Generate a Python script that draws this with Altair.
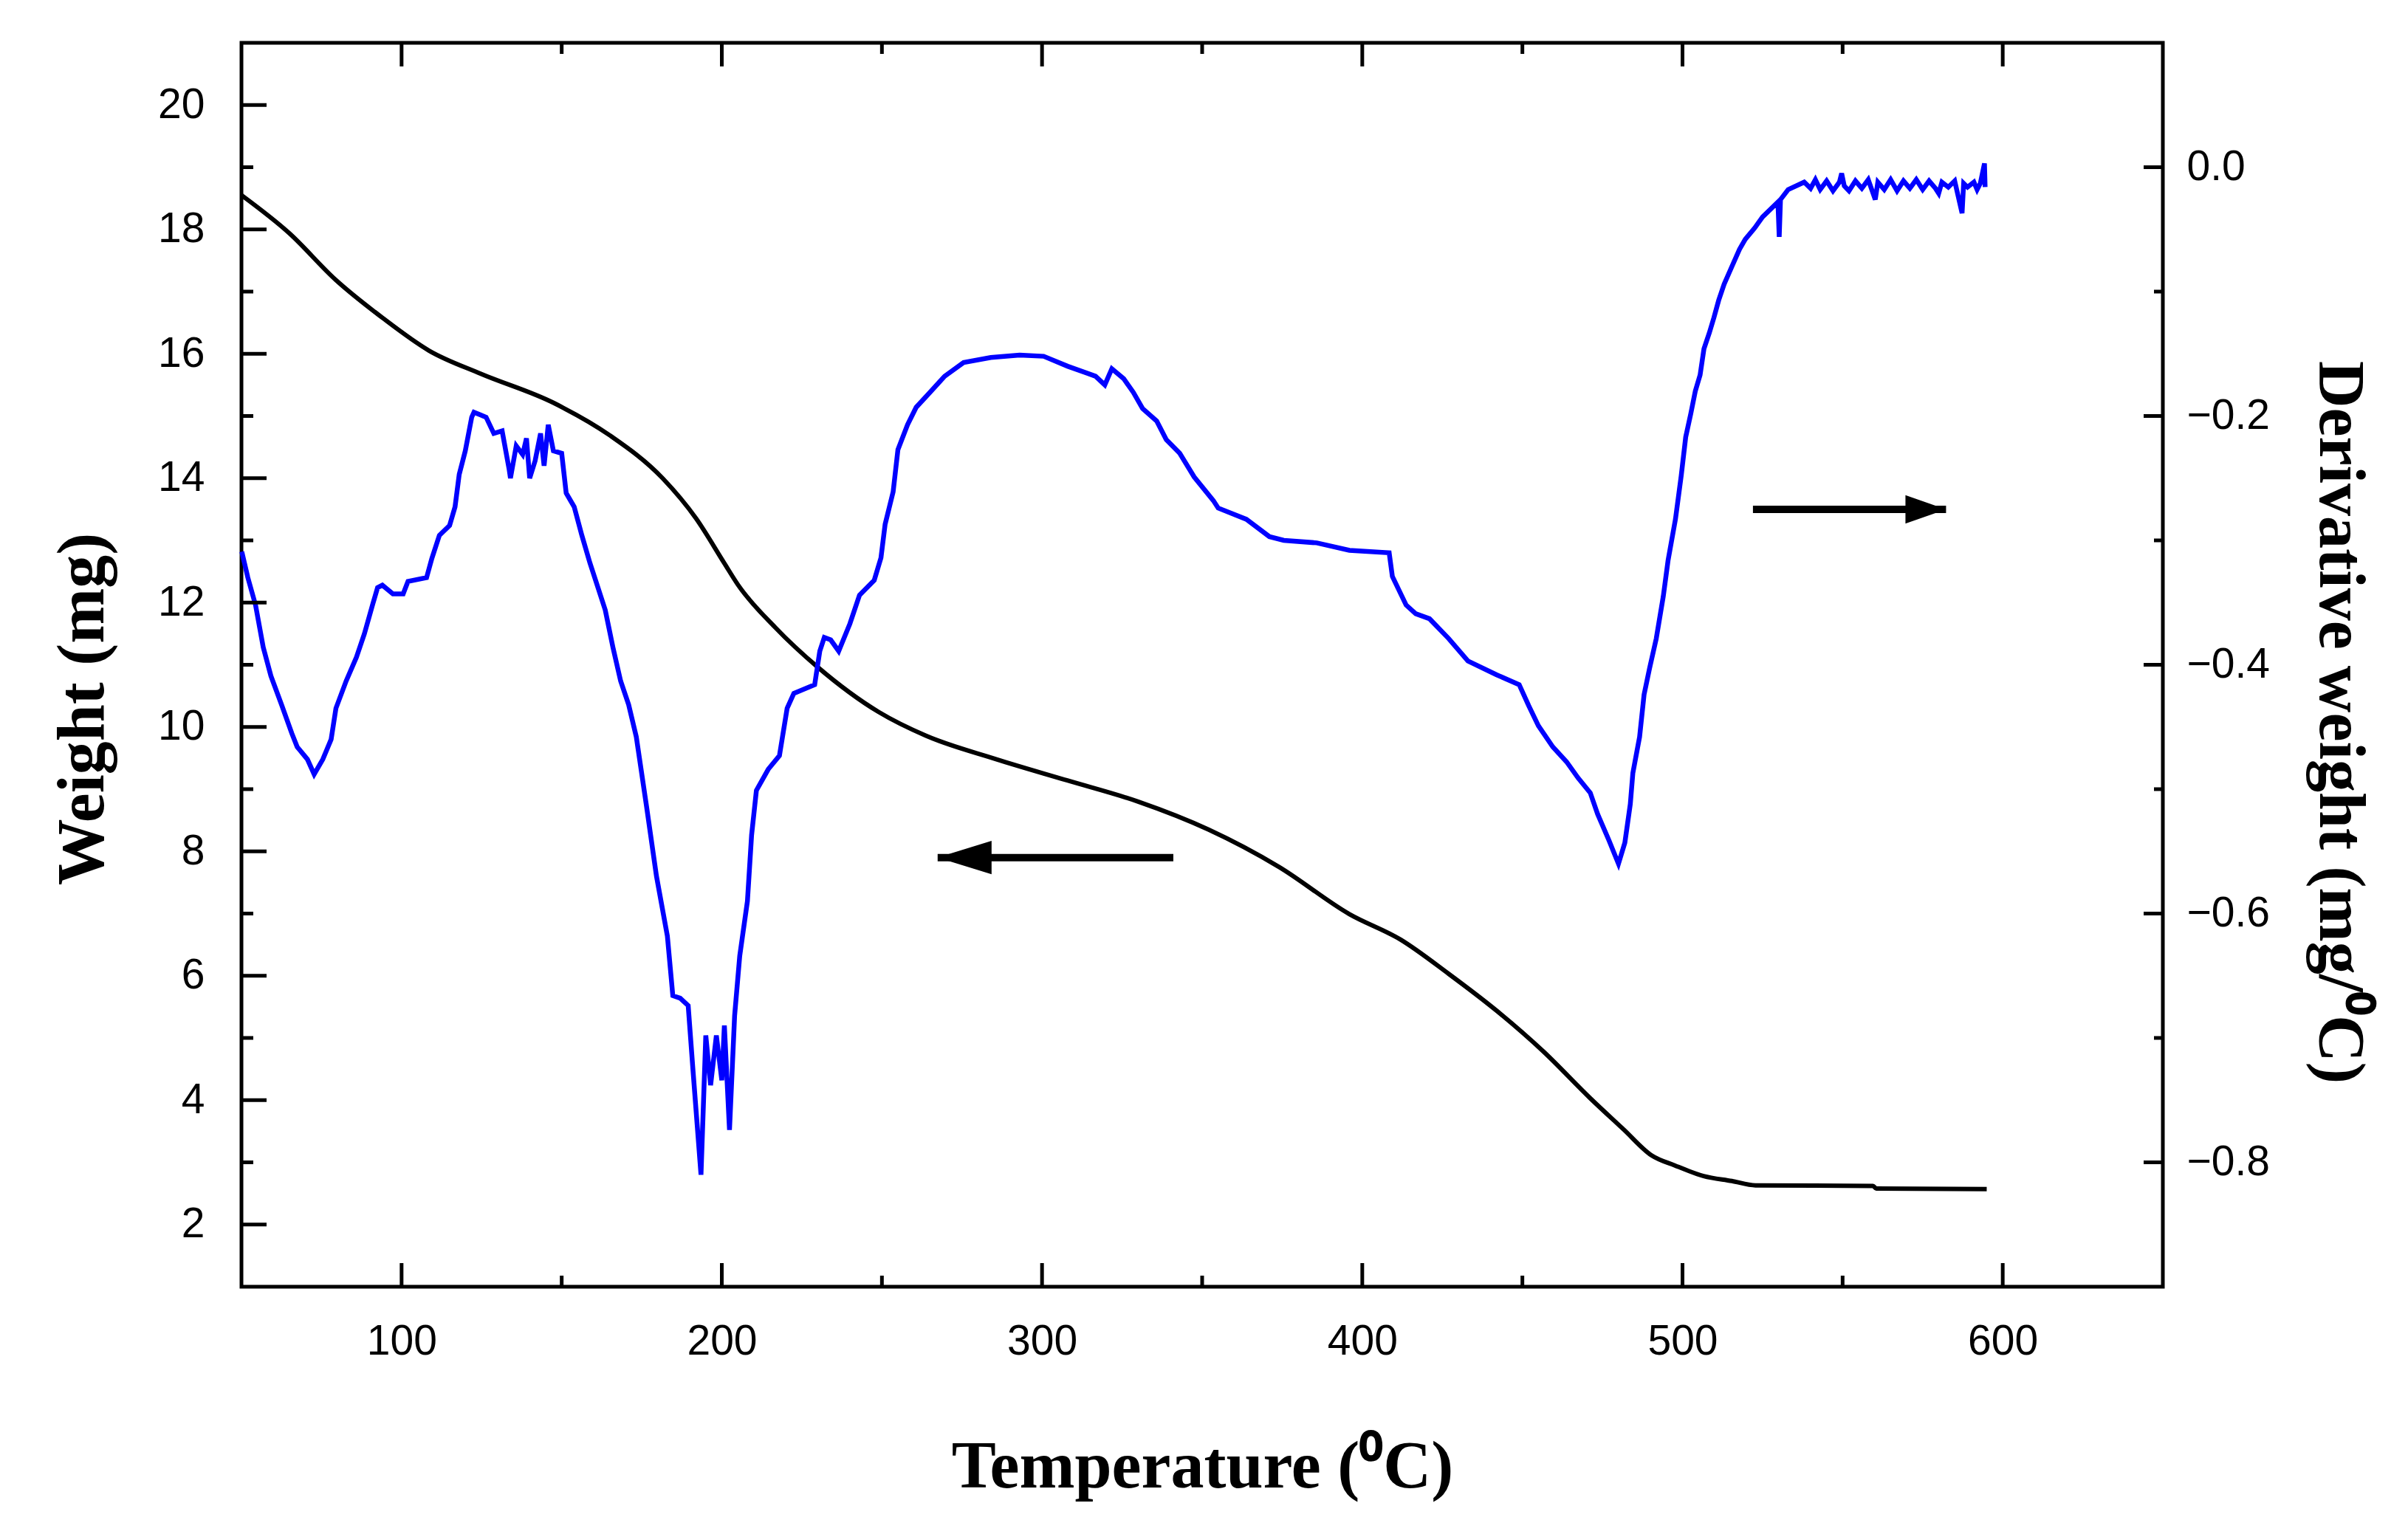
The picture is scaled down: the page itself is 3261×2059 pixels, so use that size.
import altair as alt
import pandas as pd

# ---- data ----
temp_w = [50, 64.9, 79.4, 94, 108.6, 124.7, 147.5, 165, 181.5, 192, 200.7, 205, 216.7, 230, 249,
          263.7, 285.8, 307.9, 330, 352, 374, 396, 412, 427, 441.9, 456.6, 471.2, 481.6,
          490.4, 497.6, 506.6, 515.4, 522.8, 559.5, 560.5, 595]
weight = [18.55, 17.94, 17.19, 16.58, 16.05, 15.68, 15.21, 14.69, 14.00, 13.35, 12.64, 12.29, 11.60,
          10.96, 10.24, 9.86, 9.48, 9.14, 8.80, 8.35, 7.75, 6.99, 6.58, 6.03, 5.44, 4.78, 4.03,
          3.53, 3.11, 2.95, 2.78, 2.70, 2.63, 2.62, 2.58, 2.57]

temp_d = [50.1, 52, 54.4, 56.8, 59.2, 62.5, 65.7, 67.4, 70.6, 72.7, 75.4, 78, 79.5, 82.7, 85.9,
          88.4, 90.8, 92.5, 94, 97.3, 100.5, 102, 107.8, 109.4, 111.8, 115, 116.7, 118, 119.9,
          121.9, 122.6, 124.5, 126.4, 128.8, 131.4, 133.6, 134, 135.8, 137.8, 139, 140, 141.7,
          143.4, 144.5, 145.8, 147.4, 150, 151.4, 153.9, 156.3, 158.8, 161.2, 163.6, 166, 168.4,
          170.9, 173.3, 176.5, 179.6, 183, 184.7, 187, 189.5, 191, 193.5, 195, 196.5, 198.3, 200,
          200.8, 202.4, 204, 205.6, 208, 209.3, 210.8, 214.5, 218, 220.4, 222.5, 229, 230.6, 232,
          234, 236.5, 240, 243, 247.6, 249.7, 251, 253.5, 255, 258, 260.7, 265, 269.6, 275.5,
          284, 293, 300.5, 308, 316.7, 319.6, 321.8, 325.5, 328.5, 331.4, 335.8, 338.8, 343,
          347.5, 353.5, 355, 363.8, 371, 375.5, 385.8, 396, 408.4, 409.4, 413.7, 416.7, 421,
          427, 433, 441.9, 449, 452, 455, 459.5, 463.8, 467.4, 471.2, 473.5, 477, 480, 482,
          483.7, 484.5, 486.6, 488, 489.7, 491.8, 494, 495.5, 497.8, 499.6, 501, 502.6, 504,
          505.5, 506.7, 508.4, 509.8, 511.3, 513, 515.4, 517.8, 519.6, 522.5, 525, 527.8, 529.8,
          530.2, 530.6, 533, 538, 540, 541.5, 543, 545, 547, 549, 549.7, 550.5, 552, 554, 556,
          558, 560.2, 561, 563, 565, 567, 569, 571, 573, 575, 577, 579, 580, 581, 583, 585,
          587.3, 587.8, 589, 591, 592, 593, 594.3, 594.5]
deriv = [-0.309, -0.330, -0.352, -0.386, -0.409, -0.432, -0.455, -0.466, -0.476, -0.488, -0.476,
         -0.460, -0.435, -0.413, -0.394, -0.375, -0.353, -0.338, -0.336, -0.343, -0.343, -0.333,
         -0.330, -0.315, -0.296, -0.288, -0.273, -0.247, -0.228, -0.201, -0.197, -0.199, -0.201,
         -0.214, -0.212, -0.243, -0.250, -0.224, -0.231, -0.218, -0.250, -0.236, -0.214, -0.240,
         -0.207, -0.228, -0.230, -0.262, -0.273, -0.296, -0.318, -0.337, -0.356, -0.386, -0.413,
         -0.432, -0.458, -0.514, -0.570, -0.618, -0.666, -0.668, -0.674, -0.726, -0.810, -0.698,
         -0.738, -0.698, -0.734, -0.690, -0.774, -0.682, -0.634, -0.590, -0.537, -0.501, -0.484,
         -0.473, -0.435, -0.423, -0.416, -0.389, -0.378, -0.380, -0.389, -0.367, -0.344, -0.332,
         -0.314, -0.287, -0.261, -0.227, -0.207, -0.193, -0.181, -0.168, -0.157, -0.153, -0.151,
         -0.152, -0.160, -0.168, -0.175, -0.162, -0.170, -0.181, -0.194, -0.204, -0.219, -0.230,
         -0.249, -0.268, -0.274, -0.283, -0.297, -0.300, -0.302, -0.308, -0.310, -0.329, -0.352,
         -0.359, -0.363, -0.379, -0.397, -0.408, -0.416, -0.433, -0.449, -0.466, -0.478, -0.491,
         -0.503, -0.520, -0.541, -0.560, -0.543, -0.512, -0.487, -0.458, -0.424, -0.403, -0.379,
         -0.345, -0.316, -0.283, -0.248, -0.217, -0.198, -0.180, -0.167, -0.146, -0.133, -0.121,
         -0.107, -0.094, -0.080, -0.066, -0.058, -0.049, -0.040, -0.033, -0.028, -0.056, -0.026,
         -0.018, -0.012, -0.017, -0.010, -0.018, -0.011, -0.019, -0.012, -0.005, -0.015, -0.019,
         -0.011, -0.017, -0.010, -0.026, -0.012, -0.018, -0.010, -0.019, -0.011, -0.017, -0.010,
         -0.018, -0.011, -0.017, -0.021, -0.012, -0.016, -0.011, -0.037, -0.013, -0.016, -0.012,
         -0.018, -0.013, 0.003, -0.016]

x_major = [100, 200, 300, 400, 500, 600]
x_minor = [150, 250, 350, 450, 550]
w_major = [2, 4, 6, 8, 10, 12, 14, 16, 18, 20]
w_minor = [3, 5, 7, 9, 11, 13, 15, 17, 19]
d_major = [-0.8, -0.6, -0.4, -0.2, 0.0]
d_minor = [-0.7, -0.5, -0.3, -0.1]

arrow_left_start = [341]
arrow_left_end = [267.4]
arrow_left_y = [7.9]
arrow_right_start = [522]
arrow_right_end = [582.3]
arrow_right_y = [-0.275]

# ---- layout ----
W, H = 2602, 1685
LABEL_FONT = "Liberation Sans"
TITLE_FONT = "Liberation Serif"

xs = alt.Scale(domain=[50, 650], nice=False, zero=False)
ws = alt.Scale(domain=[1, 21], nice=False, zero=False)
ds = alt.Scale(domain=[-0.9, 0.1], nice=False, zero=False)

wdf = pd.DataFrame({"T": temp_w, "W": weight})
ddf = pd.DataFrame({"T": temp_d, "D": deriv})

x_axis = alt.Axis(orient="bottom", values=x_major, format="d", ticks=False, tickSize=0,
                  domain=False, grid=False, labelFont=LABEL_FONT, labelFontSize=57,
                  labelColor="black", labelPadding=46, labelOverlap=False, labelFlush=False,
                  title="Temperature (⁰C)", titleFont=TITLE_FONT, titleFontSize=90,
                  titleFontWeight="bold", titleColor="black", titleX=W / 2, titleY=244,
                  titleAlign="center", titleBaseline="middle")

w_axis = alt.Axis(orient="left", values=w_major, format="d", ticks=False, tickSize=0,
                  domain=False, grid=False, labelFont=LABEL_FONT, labelFontSize=57,
                  labelColor="black", labelPadding=50, labelOverlap=False,
                  title="Weight (mg)", titleFont=TITLE_FONT, titleFontSize=90,
                  titleFontWeight="bold", titleColor="black", titleAngle=270,
                  titleX=-215, titleY=902, titleAlign="center", titleBaseline="middle")

d_axis = alt.Axis(orient="right", values=d_major, format=".1f", ticks=False, tickSize=0,
                  domain=False, grid=False, labelFont=LABEL_FONT, labelFontSize=57,
                  labelColor="black", labelPadding=32, labelOverlap=False,
                  title="Derivative weight (mg/⁰C)", titleFont=TITLE_FONT, titleFontSize=88,
                  titleFontWeight="bold", titleColor="black", titleAngle=90,
                  titleX=238, titleY=920, titleAlign="center", titleBaseline="middle")

weight_line = alt.Chart(wdf).mark_line(color="black", strokeWidth=6, interpolate="monotone").encode(
    x=alt.X("T:Q", scale=xs, axis=x_axis),
    y=alt.Y("W:Q", scale=ws, axis=w_axis),
)

deriv_line = alt.Chart(ddf).mark_line(color="#0000FF", strokeWidth=6.5).encode(
    x=alt.X("T:Q", scale=xs, axis=None),
    y=alt.Y("D:Q", scale=ds, axis=d_axis),
)


def xticks(vals, top, length):
    df = pd.DataFrame({"v": vals})
    if top:
        yv, y2v = 0, length
    else:
        yv, y2v = H, H - length
    return alt.Chart(df).mark_rule(color="black", strokeWidth=5).encode(
        x=alt.X("v:Q", scale=xs, axis=None), y=alt.value(yv), y2=alt.value(y2v))


def yticks(vals, scale, right, length):
    df = pd.DataFrame({"v": vals})
    if right:
        xv, x2v = W, W - length
    else:
        xv, x2v = 0, length
    return alt.Chart(df).mark_rule(color="black", strokeWidth=5).encode(
        y=alt.Y("v:Q", scale=scale, axis=None), x=alt.value(xv), x2=alt.value(x2v))


tick_layers = [
    xticks(x_major, False, 32), xticks(x_minor, False, 15),
    xticks(x_major, True, 32), xticks(x_minor, True, 15),
    yticks(w_major, ws, False, 34), yticks(w_minor, ws, False, 16),
    yticks(d_major, ds, True, 26), yticks(d_minor, ds, True, 12),
]

adf_l = pd.DataFrame({"x0": arrow_left_start, "x1": arrow_left_end, "y": arrow_left_y})
adf_r = pd.DataFrame({"x0": arrow_right_start, "x1": arrow_right_end, "y": arrow_right_y})

arrow_l_shaft = alt.Chart(adf_l).mark_rule(color="black", strokeWidth=10).encode(
    x=alt.X("x0:Q", scale=xs, axis=None), x2="x1:Q",
    y=alt.Y("y:Q", scale=ws, axis=None))
arrow_l_head = alt.Chart(adf_l).mark_point(
    shape="M0,0L2,-0.62L2,0.62Z", size=5329, filled=True, color="black", opacity=1,
    strokeWidth=0).encode(
    x=alt.X("x1:Q", scale=xs, axis=None), y=alt.Y("y:Q", scale=ws, axis=None))

arrow_r_shaft = alt.Chart(adf_r).mark_rule(color="black", strokeWidth=10).encode(
    x=alt.X("x0:Q", scale=xs, axis=None), x2="x1:Q",
    y=alt.Y("y:Q", scale=ds, axis=None))
arrow_r_head = alt.Chart(adf_r).mark_point(
    shape="M0,0L-2,-0.7L-2,0.7Z", size=3025, filled=True, color="black", opacity=1,
    strokeWidth=0).encode(
    x=alt.X("x1:Q", scale=xs, axis=None), y=alt.Y("y:Q", scale=ds, axis=None))

chart = alt.layer(
    weight_line, deriv_line, *tick_layers,
    arrow_l_shaft, arrow_l_head, arrow_r_shaft, arrow_r_head,
).resolve_scale(x="independent", y="independent").properties(
    width=W, height=H,
    padding={"left": 319, "top": 50, "right": 322, "bottom": 296},
    autosize=alt.AutoSizeParams(type="none"),
    background="white",
).configure_view(stroke="black", strokeWidth=5)

chart.save("out.html", embed_options={"renderer": "svg", "actions": False})
